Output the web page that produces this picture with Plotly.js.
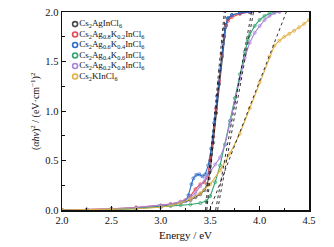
<!DOCTYPE html>
<html>
<head>
<meta charset="utf-8">
<script src="https://cdn.plot.ly/plotly-3.0.1.min.js"></script>
<style>
html,body{margin:0;padding:0;background:#fff;}
#chart{width:334px;height:247px;}
</style>
</head>
<body>
<div id="chart"></div>
<script>
// ---- data ----
const seriesNames = [
  "Cs<sub>2</sub>AgInCl<sub>6</sub>",
  "Cs<sub>2</sub>Ag<sub>0.8</sub>K<sub>0.2</sub>InCl<sub>6</sub>",
  "Cs<sub>2</sub>Ag<sub>0.6</sub>K<sub>0.4</sub>InCl<sub>6</sub>",
  "Cs<sub>2</sub>Ag<sub>0.4</sub>K<sub>0.6</sub>InCl<sub>6</sub>",
  "Cs<sub>2</sub>Ag<sub>0.2</sub>K<sub>0.8</sub>InCl<sub>6</sub>",
  "Cs<sub>2</sub>KInCl<sub>6</sub>"
];
const seriesColors = ["#4a4a4a", "#e5484f", "#2f6cc6", "#2ea56e", "#a983da", "#dfb046"];

const energyAg = [2.0, 2.25, 2.5, 2.75, 3.0, 3.1, 3.2, 3.3, 3.35, 3.4, 3.44, 3.47, 3.5, 3.53, 3.56, 3.59, 3.62, 3.64, 3.66, 3.68, 3.72, 3.8, 3.9, 4.0];
const valuesAg = [0.0, 0.003, 0.008, 0.018, 0.035, 0.05, 0.07, 0.10, 0.13, 0.16, 0.20, 0.26, 0.40, 0.68, 0.98, 1.27, 1.55, 1.75, 1.87, 1.93, 1.97, 1.99, 2.0, 2.01];

const energyK02 = [2.0, 2.25, 2.5, 2.75, 3.0, 3.1, 3.2, 3.25, 3.3, 3.35, 3.4, 3.44, 3.47, 3.5, 3.53, 3.56, 3.59, 3.62, 3.64, 3.66, 3.68, 3.72, 3.8, 3.9, 4.0];
const valuesK02 = [0.0, 0.005, 0.012, 0.025, 0.045, 0.06, 0.08, 0.10, 0.14, 0.21, 0.26, 0.28, 0.33, 0.50, 0.74, 1.02, 1.30, 1.57, 1.76, 1.86, 1.91, 1.95, 1.98, 2.0, 2.01];

const energyK04 = [2.0, 2.25, 2.5, 2.75, 3.0, 3.1, 3.2, 3.25, 3.28, 3.31, 3.33, 3.36, 3.39, 3.42, 3.45, 3.48, 3.51, 3.54, 3.57, 3.6, 3.63, 3.65, 3.68, 3.72, 3.8, 3.9, 4.0];
const valuesK04 = [0.0, 0.003, 0.008, 0.018, 0.035, 0.05, 0.07, 0.09, 0.15, 0.26, 0.32, 0.355, 0.36, 0.34, 0.36, 0.45, 0.62, 0.88, 1.15, 1.42, 1.68, 1.84, 1.94, 1.97, 1.99, 2.0, 2.01];

const energyK06 = [2.0, 2.25, 2.5, 2.75, 3.0, 3.1, 3.2, 3.3, 3.4, 3.46, 3.5, 3.55, 3.6, 3.65, 3.7, 3.75, 3.8, 3.85, 3.88, 3.9, 3.95, 4.0, 4.05, 4.1, 4.15, 4.2];
const valuesK06 = [0.0, 0.002, 0.006, 0.014, 0.03, 0.04, 0.05, 0.055, 0.07, 0.09, 0.14, 0.28, 0.45, 0.66, 0.90, 1.13, 1.37, 1.60, 1.72, 1.77, 1.86, 1.92, 1.96, 1.985, 2.0, 2.01];

const energyK08 = [2.0, 2.25, 2.5, 2.75, 3.0, 3.1, 3.2, 3.3, 3.35, 3.4, 3.45, 3.5, 3.55, 3.6, 3.65, 3.7, 3.75, 3.8, 3.85, 3.9, 3.95, 4.0, 4.05, 4.1, 4.15, 4.2];
const valuesK08 = [0.0, 0.005, 0.012, 0.025, 0.045, 0.06, 0.085, 0.13, 0.17, 0.24, 0.32, 0.39, 0.46, 0.53, 0.66, 0.87, 1.08, 1.32, 1.54, 1.69, 1.79, 1.86, 1.92, 1.96, 1.99, 2.0];

const energyK = [2.0, 2.25, 2.5, 2.75, 3.0, 3.1, 3.2, 3.3, 3.4, 3.5, 3.6, 3.7, 3.8, 3.9, 4.0, 4.1, 4.15, 4.2, 4.25, 4.3, 4.35, 4.4, 4.45, 4.5];
const valuesK = [0.0, 0.002, 0.005, 0.012, 0.028, 0.045, 0.07, 0.11, 0.17, 0.26, 0.40, 0.57, 0.77, 1.03, 1.29, 1.55, 1.66, 1.71, 1.75, 1.78, 1.81, 1.845, 1.88, 1.92];

// Tauc linear fits (x-intercept in eV, slope per eV)
const fitIntercepts = [3.452, 3.466, 3.555, 3.575, 3.495];
const fitSlopes = [10.5, 10.5, 5.5, 5.5, 2.58];

const xTicks = [2.0, 2.5, 3.0, 3.5, 4.0, 4.5];
const yTicks = [0.0, 0.5, 1.0, 1.5, 2.0];

// ---- build traces ----
const energies = [energyAg, energyK02, energyK04, energyK06, energyK08, energyK];
const values = [valuesAg, valuesK02, valuesK04, valuesK06, valuesK08, valuesK];
const yMax = 2.0;
const traces = [];

energies.forEach((xs, i) => {
  traces.push({
    x: xs, y: values[i], type: 'scatter', mode: 'lines+markers',
    line: {color: seriesColors[i], width: 1.1},
    marker: {symbol: 'circle-open', size: 3, color: seriesColors[i], line: {width: 0.8}},
    showlegend: false, hoverinfo: 'skip'
  });
});

fitIntercepts.forEach((x0, i) => {
  const x1 = x0 + (yMax + 0.05) / fitSlopes[i];
  traces.push({
    x: [x0, x1], y: [0, fitSlopes[i] * (x1 - x0)], type: 'scatter', mode: 'lines',
    line: {color: '#000', width: 0.8, dash: '3px,3px'},
    showlegend: false, hoverinfo: 'skip'
  });
});

// legend drawn on an overlay axis (0..1 over plot area)
const legX = seriesNames.map(() => 0.053);
const legY = seriesNames.map((_, i) => 0.939 - i * 0.053);
traces.push({
  x: legX, y: legY, xaxis: 'x2', yaxis: 'y2', type: 'scatter', mode: 'markers+text',
  text: seriesNames, textposition: 'middle right', cliponaxis: false,
  textfont: {family: 'Liberation Serif, Times New Roman, serif', size: 9, color: '#111'},
  marker: {symbol: 'circle-open', size: 5, color: seriesColors, line: {width: 1.6}},
  showlegend: false, hoverinfo: 'skip'
});

const fontFam = 'Liberation Serif, Times New Roman, serif';
const layout = {
  width: 334, height: 247,
  margin: {l: 62, r: 25, t: 12, b: 37},
  paper_bgcolor: '#fff', plot_bgcolor: '#fff',
  font: {family: fontFam, size: 10.5, color: '#111'},
  showlegend: false,
  xaxis: {
    range: [2.0, 4.5], tickvals: xTicks, ticktext: xTicks.map(v => v.toFixed(1)),
    ticks: 'inside', ticklen: 4, tickwidth: 1, tickcolor: '#111',
    minor: {ticks: 'inside', ticklen: 2.5, dtick: 0.25, tick0: 2.0, tickcolor: '#111'},
    showline: true, linecolor: '#111', linewidth: 1.5, mirror: true,
    showgrid: false, zeroline: false,
    tickfont: {family: fontFam, size: 10.5},
    title: {text: 'Energy / eV', font: {family: fontFam, size: 11}, standoff: 6}
  },
  yaxis: {
    range: [0, 2.0], tickvals: yTicks, ticktext: yTicks.map(v => v.toFixed(1)),
    ticks: 'inside', ticklen: 4, tickwidth: 1, tickcolor: '#111',
    minor: {ticks: 'inside', ticklen: 2.5, dtick: 0.25, tick0: 0, tickcolor: '#111'},
    showline: true, linecolor: '#111', linewidth: 1.5, mirror: true,
    showgrid: false, zeroline: false,
    tickfont: {family: fontFam, size: 10.5}
  },
  xaxis2: {overlaying: 'x', range: [0, 1], visible: false, anchor: 'y2'},
  yaxis2: {overlaying: 'y', range: [0, 1], visible: false, anchor: 'x2'},
  annotations: [{
    text: '(<i>αhν</i>)<sup>2</sup> / (eV·cm<sup>−1</sup>)<sup>2</sup>',
    xref: 'paper', yref: 'paper', x: -0.109, y: 0.5, xanchor: 'center', yanchor: 'middle',
    textangle: -90, showarrow: false, font: {family: fontFam, size: 10, color: '#111'}
  }]
};

Plotly.newPlot('chart', traces, layout, {staticPlot: true, displayModeBar: false});
</script>
</body>
</html>
